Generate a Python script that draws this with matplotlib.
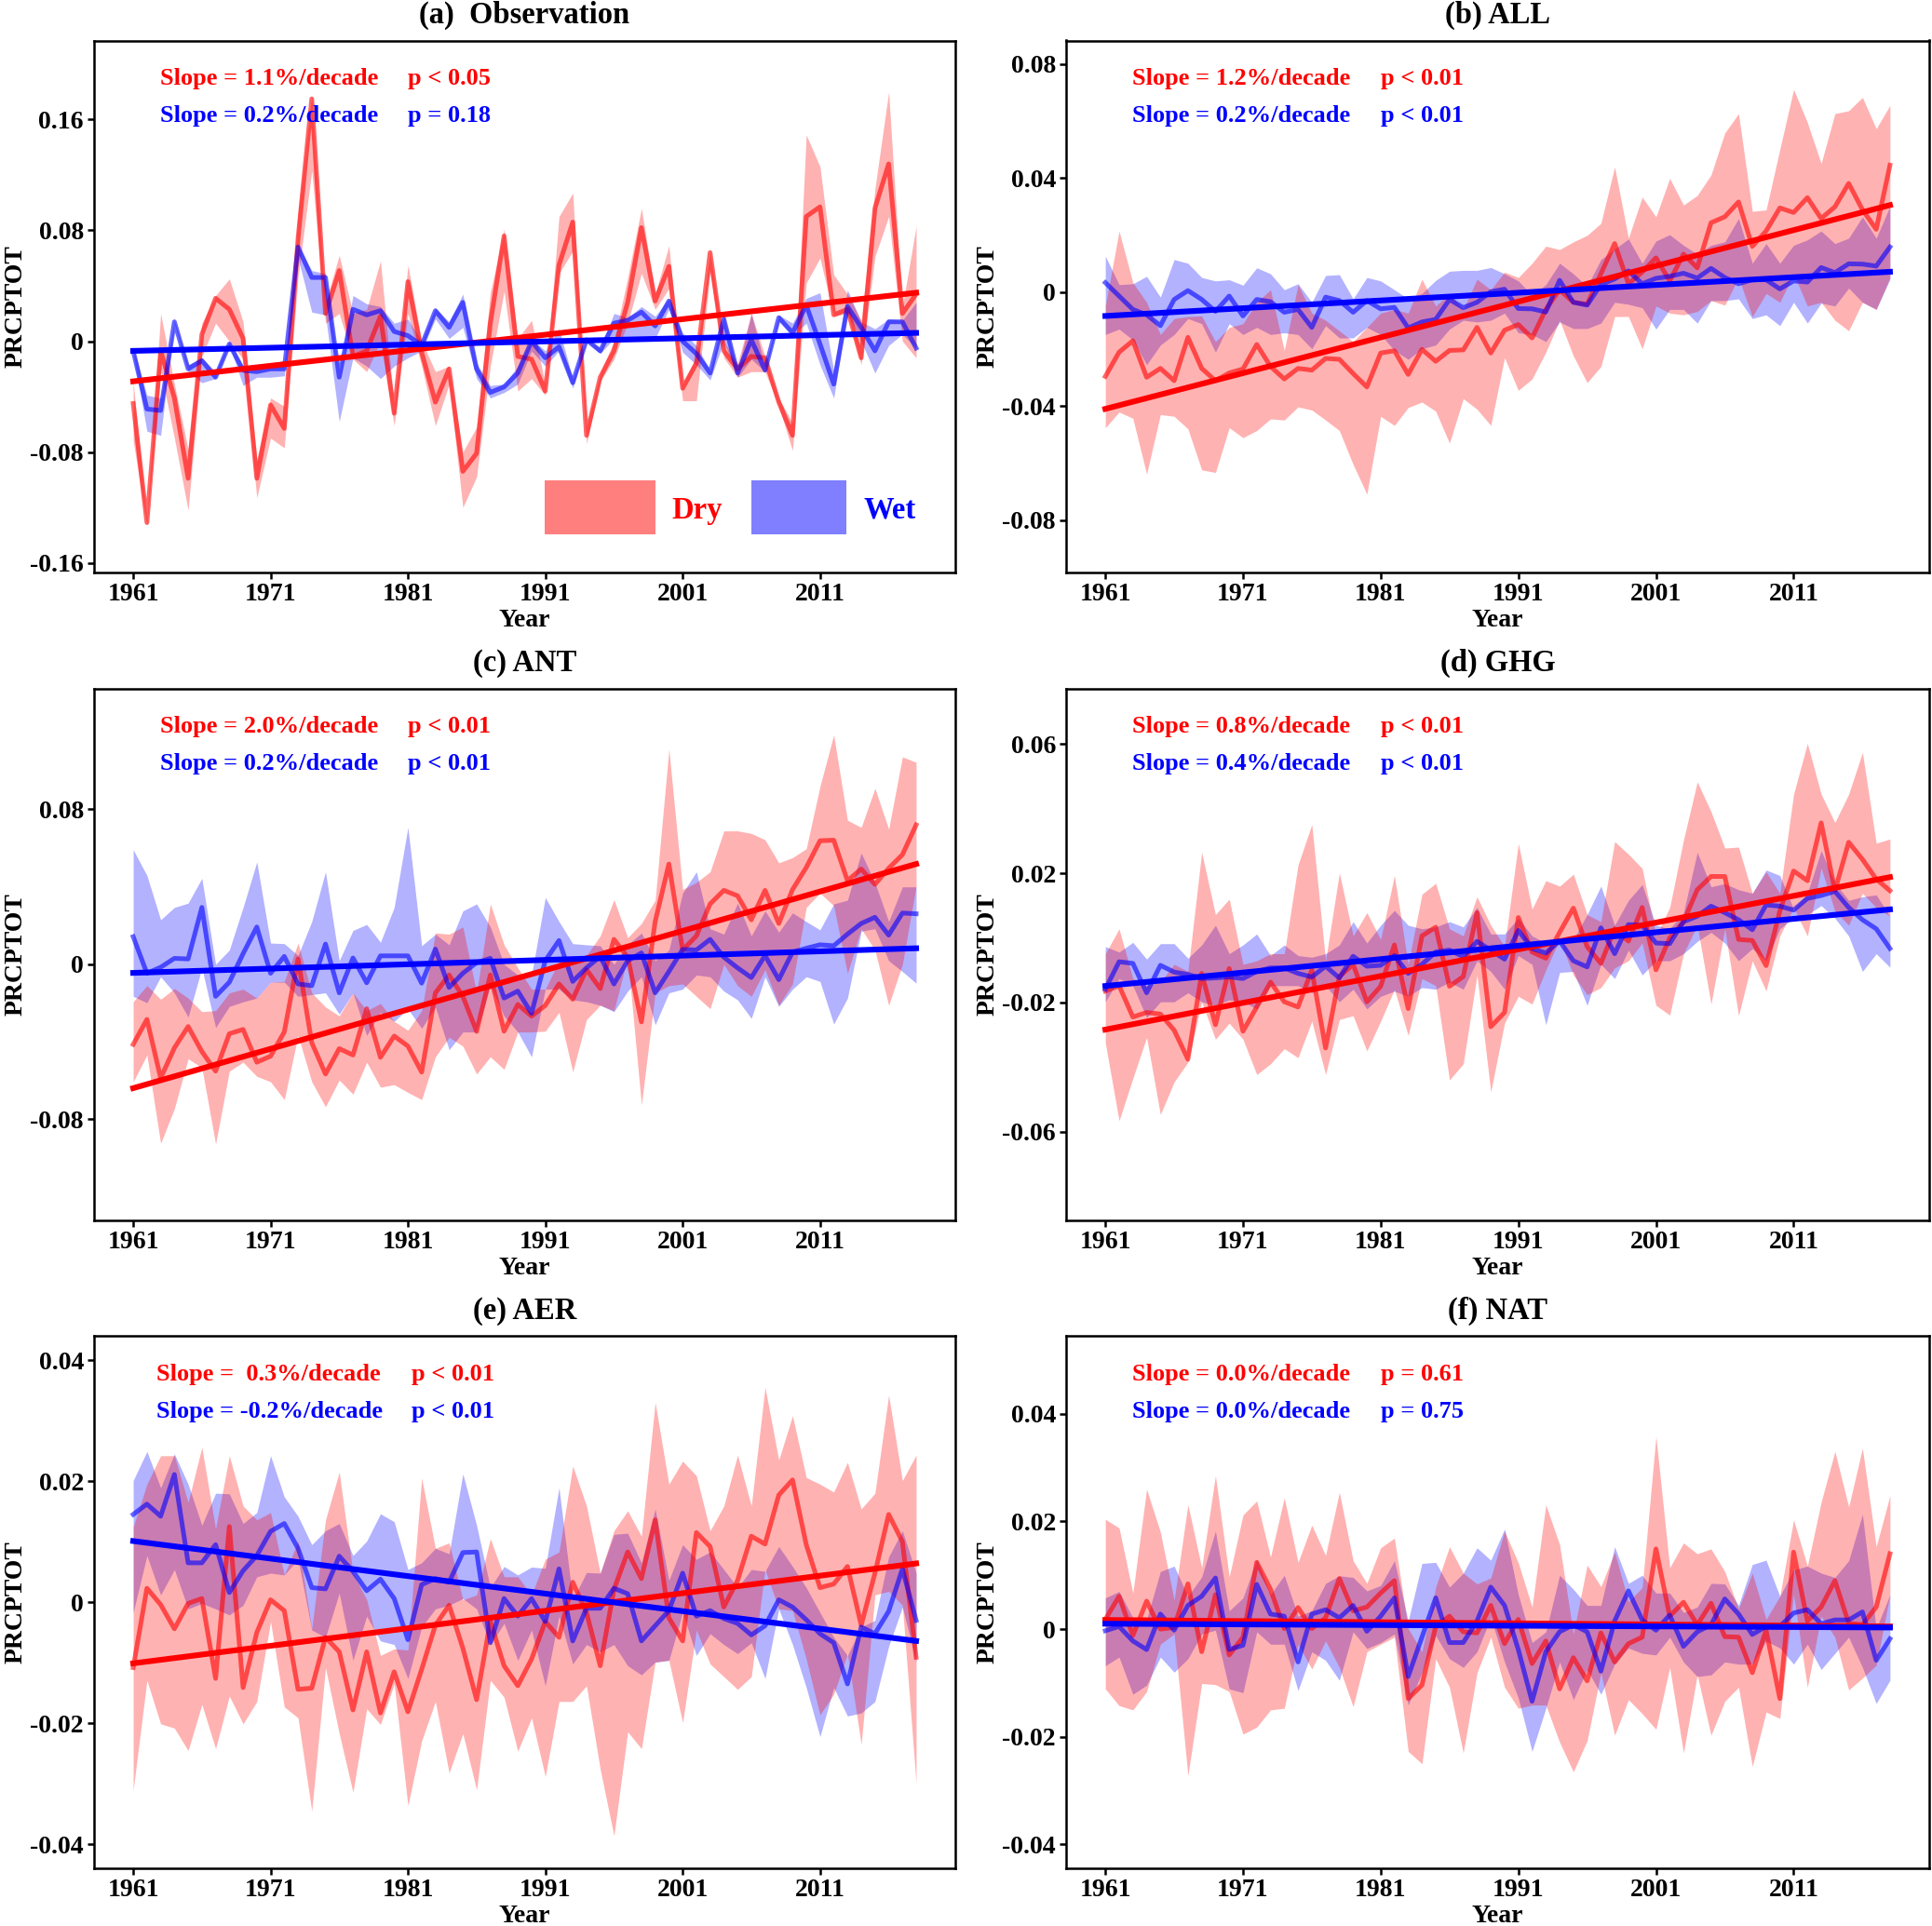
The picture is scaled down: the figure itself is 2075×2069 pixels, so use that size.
# PRCPTOT anomalies for dry and wet regions, obs and model forcings
import numpy as np
import matplotlib
matplotlib.use("Agg")
import matplotlib.pyplot as plt
from matplotlib.patches import Rectangle

plt.rcParams["font.family"] = ["Liberation Serif", "DejaVu Serif"]
plt.rcParams["font.weight"] = "bold"

years = np.arange(1961, 2019)
xticks = [1961, 1971, 1981, 1991, 2001, 2011]

# (a) Observation
a_dry = [-.045,-.131,-.007,-.041,-.099,.005,.031,.023,.002,-.099,-.046,-.063,.074,.175,.020,.051,-.011,-.007,.018,-.052,.043,-.008,-.044,-.020,-.094,-.081,.013,.076,-.011,-.013,-.036,.055,.086,-.068,-.026,-.007,.028,.082,.029,.054,-.034,-.016,.064,-.007,-.020,-.011,-.012,-.044,-.068,.090,.097,.019,.023,-.012,.096,.128,.020,.034]
a_dry_hi = [-.029,-.129,.020,-.031,-.078,.013,.033,.045,.014,-.085,-.041,-.047,.093,.177,.028,.062,.020,.023,.058,-.046,.055,0,-.022,-.018,-.080,-.062,.035,.081,.002,.015,-.031,.090,.107,-.062,-.023,0,.046,.096,.034,.069,-.031,-.011,.065,0,-.016,.020,-.011,-.041,-.059,.149,.126,.048,.034,.015,.110,.180,.025,.083]
a_dry_lo = [-.072,-.133,-.021,-.070,-.122,-.011,.013,0,-.013,-.113,-.070,-.077,.046,.123,.013,.020,-.013,-.022,0,-.061,.020,-.018,-.061,-.031,-.120,-.098,-.018,.036,-.036,-.027,-.039,.049,.065,-.074,-.029,-.013,.013,.049,.023,.038,-.043,-.043,.049,-.012,-.026,-.022,-.022,-.047,-.079,.042,.060,.018,.020,-.017,.061,.090,0,-.012]
a_wet = [-.007,-.049,-.050,.014,-.020,-.014,-.026,-.002,-.021,-.022,-.020,-.020,.068,.046,.046,-.026,.023,.019,.022,.007,.004,-.003,.022,.010,.028,-.020,-.037,-.033,-.023,0,-.012,-.004,-.030,.001,-.007,.013,.015,.021,.011,.029,0,-.009,-.023,.016,-.023,.001,-.021,.017,.006,.026,-.002,-.031,.025,.010,-.007,.014,.014,-.005]
a_wet_hi = [-.004,-.039,-.041,.015,-.017,-.012,-.022,0,-.018,-.017,-.016,-.014,.069,.051,.049,-.021,.033,.027,.025,.013,.016,0,.024,.014,.034,-.016,-.032,-.031,-.018,.002,-.007,.009,-.027,.002,-.005,.020,.017,.025,.018,.031,.006,-.003,-.021,.019,-.021,.020,-.018,.019,.013,.031,.035,-.021,.037,.014,.009,.016,.015,.028]
a_wet_lo = [-.009,-.065,-.068,.013,-.022,-.030,-.027,-.003,-.032,-.026,-.026,-.025,.060,.021,.019,-.058,-.012,-.018,-.027,-.018,-.012,-.007,.016,.002,.010,-.027,-.041,-.037,-.031,-.007,-.018,-.007,-.034,0,-.009,.002,.002,.002,.002,.023,-.008,-.017,-.028,0,-.026,-.013,-.022,.015,.004,.013,-.017,-.041,.020,0,-.023,-.003,.005,-.005]

# (b) ALL
b_dry = [-.0296,-.0211,-.0171,-.0299,-.0268,-.0311,-.0159,-.0268,-.0311,-.0284,-.0270,-.0184,-.0261,-.0305,-.0268,-.0274,-.0233,-.0236,-.0286,-.0333,-.0214,-.0206,-.0289,-.0201,-.0243,-.0205,-.0203,-.0124,-.0214,-.0134,-.0114,-.0161,-.0061,.0008,-.0036,-.0043,.0064,.0170,.0029,.0070,.0120,.0039,.0133,.0085,.0243,.0264,.0316,.0160,.0214,.0295,.0279,.0331,.0258,.0299,.0381,.0289,.0220,.0445]
b_dry_hi = [-.0049,.0214,.0033,-.0036,-.0149,-.0093,-.0086,-.0084,-.0174,-.0124,-.0111,-.0036,.0008,-.0205,.0026,-.0074,-.0099,-.0136,-.0174,-.0124,-.0074,-.0061,-.0074,.0045,-.0049,-.0005,-.0061,.0045,.0008,.0070,.0051,.0101,.0161,.0149,.0176,.0199,.0241,.0439,.0189,.0333,.0264,.0399,.0305,.0339,.0411,.0558,.0626,.0283,.0288,.0501,.0711,.0595,.0451,.0626,.0636,.0683,.0573,.0655]
b_dry_lo = [-.0476,-.0421,-.0443,-.0639,-.0430,-.0436,-.0480,-.0624,-.0633,-.0476,-.0511,-.0486,-.0445,-.0449,-.0403,-.0414,-.0449,-.0486,-.0605,-.0709,-.0436,-.0468,-.0405,-.0386,-.0418,-.0530,-.0374,-.0411,-.0468,-.0230,-.0345,-.0305,-.0211,-.0099,-.0224,-.0318,-.0261,-.0086,-.0086,-.0199,-.0049,-.0074,-.0080,-.0068,-.0030,-.0046,.0051,-.0086,-.0005,-.0036,.0064,-.0049,-.0036,-.0099,-.0136,-.0036,-.0061,.0051]
b_wet = [.0033,-.0014,-.0061,-.0080,-.0118,-.0026,.0005,-.0026,-.0068,-.0014,-.0084,-.0026,-.0034,-.0071,-.0061,-.0124,-.0018,-.0030,-.0071,-.0030,-.0059,-.0054,-.0126,-.0105,-.0096,-.0026,-.0055,-.0036,.0001,.0010,-.0058,-.0059,-.0070,.0041,-.0036,-.0046,.0026,.0046,.0074,.0029,.0048,.0055,.0066,.0049,.0083,.0051,.0029,.0043,.0043,.0011,.0039,.0035,.0086,.0068,.0099,.0098,.0091,.0158]
b_wet_hi = [.0126,.0026,.0029,.0055,-.0018,.0114,.0101,.0051,.0039,.0043,.0024,.0085,.0064,.0008,.0029,-.0036,.0058,.0061,-.0024,.0051,.0039,.0008,-.0024,-.0005,.0041,.0073,.0076,.0076,.0086,.0064,.0039,-.0011,.0026,.0101,.0064,.0020,.0114,.0151,.0186,.0101,.0179,.0201,.0164,.0133,.0164,.0176,.0258,.0101,.0170,.0101,.0164,.0183,.0214,.0170,.0189,.0264,.0189,.0301]
b_wet_lo = [-.0149,-.0130,-.0168,-.0255,-.0186,-.0149,-.0093,-.0111,-.0211,-.0111,-.0149,-.0124,-.0149,-.0143,-.0149,-.0199,-.0118,-.0161,-.0161,-.0124,-.0149,-.0205,-.0236,-.0199,-.0186,-.0130,-.0099,-.0105,-.0099,-.0074,-.0143,-.0149,-.0174,-.0105,-.0128,-.0128,-.0109,-.0036,-.0043,-.0055,-.0130,-.0061,-.0061,-.0109,-.0030,-.0030,-.0024,-.0093,-.0080,-.0118,-.0036,-.0109,-.0039,-.0049,.0014,-.0036,-.0061,.0045]

# (c) ANT
c_dry = [-.0415,-.0286,-.0589,-.0433,-.0323,-.0452,-.0553,-.0360,-.0338,-.0507,-.0476,-.0351,.0026,-.0406,-.0568,-.0437,-.0470,-.0231,-.0482,-.0372,-.0424,-.0558,-.0149,-.0057,-.0167,-.0348,-.0057,-.0347,-.0209,-.0269,-.0214,-.0103,-.0182,-.0029,-.0127,.0127,.0035,-.0299,.0219,.0516,.0072,.0145,.0310,.0380,.0352,.0228,.0380,.0209,.0384,.0498,.0636,.0639,.0430,.0490,.0411,.0494,.0564,.0718]
c_dry_hi = [-.0195,-.0112,-.0182,-.0127,-.0176,-.0246,-.0241,-.0149,-.0130,-.0176,-.0094,-.0090,.0108,-.0149,-.0222,-.0268,-.0149,-.0241,-.0204,-.0296,-.0342,-.0241,.0160,.0154,.0191,-.0149,.0310,.0099,-.0020,-.0130,-.0130,.0017,.0017,.0044,.0145,.0332,.0136,.0209,.0329,.1109,.0384,.0421,.0476,.0687,.0687,.0674,.0641,.0522,.0549,.0595,.0917,.1183,.0742,.0705,.0907,.0696,.1069,.1041]
c_dry_lo = [-.0608,-.0470,-.0926,-.0746,-.0489,-.0535,-.0929,-.0553,-.0507,-.0580,-.0608,-.0700,-.0369,-.0608,-.0737,-.0599,-.0672,-.0507,-.0636,-.0623,-.0663,-.0700,-.0479,-.0378,-.0424,-.0568,-.0479,-.0544,-.0351,-.0351,-.0347,-.0250,-.0557,-.0287,-.0213,-.0241,.0035,-.0727,-.0149,-.0112,-.0103,-.0167,-.0231,-.0002,-.0112,-.0167,-.0029,-.0213,-.0103,.0292,.0366,.0301,-.0048,.0182,.0072,-.0213,-.0002,.0402]
c_wet = [.0141,-.0048,-.0017,.0029,.0026,.0292,-.0167,-.0094,.0053,.0191,-.0048,.0039,-.0103,-.0112,.0103,-.0149,.0031,-.0097,.0042,.0042,.0042,-.0099,.0077,-.0121,-.0048,.0007,.0029,-.0176,-.0140,-.0255,.0017,.0121,-.0090,-.0020,.0039,-.0103,.0017,.0057,-.0149,-.0039,.0075,.0072,.0127,.0035,-.0020,-.0070,.0044,-.0081,.0061,.0081,.0099,.0094,.0154,.0209,.0241,.0149,.0263,.0259]
c_wet_hi = [.0590,.0457,.0228,.0292,.0314,.0442,-.0002,.0072,.0292,.0527,.0108,.0105,.0044,.0219,.0476,.0017,.0173,.0204,.0112,.0292,.0705,.0094,.0154,.0099,.0274,.0310,.0191,-.0002,-.0057,-.0057,.0343,.0219,.0105,.0099,.0094,-.0002,.0099,.0160,.0017,.0072,.0366,.0476,.0182,.0154,.0314,.0145,.0274,.0164,.0264,.0219,.0176,.0310,.0329,.0573,.0420,.0219,.0398,.0398]
c_wet_lo = [-.0167,-.0200,-.0066,-.0149,-.0274,-.0020,-.0328,-.0219,-.0195,-.0176,-.0094,-.0094,-.0167,-.0158,-.0149,-.0259,-.0149,-.0369,-.0249,-.0296,-.0232,-.0332,-.0222,-.0443,-.0351,-.0351,-.0112,-.0268,-.0351,-.0479,-.0130,-.0130,-.0185,-.0195,-.0213,-.0246,-.0140,-.0066,-.0314,-.0149,-.0130,-.0057,-.0066,-.0140,-.0185,-.0281,-.0066,-.0219,-.0130,-.0066,-.0090,-.0310,-.0176,.0169,.0182,.0017,-.0039,-.0099]

# (d) GHG
d_dry = [-.0165,-.0148,-.0245,-.0231,-.0236,-.0286,-.0376,-.0110,-.0269,-.0095,-.0289,-.0214,-.0137,-.0198,-.0214,-.0099,-.0341,-.0120,-.0082,-.0198,-.0150,-.0022,-.0219,.0006,.0033,-.0150,-.0120,.0078,-.0275,-.0231,.0063,-.0044,-.0063,.0017,.0092,-.0027,-.0079,.0028,-.0010,.0094,-.0099,0,.0050,.0149,.0190,.0190,-.0005,-.0008,-.0086,.0083,.0207,.0177,.0356,.0146,.0296,.0243,.0182,.0146]
d_dry_hi = [-.0049,.0028,-.0126,-.0148,-.0137,-.0082,-.0104,.0265,.0072,.0120,-.0082,-.0071,-.0049,-.0049,.0226,.0351,-.0071,.0201,.0006,.0078,-.0005,.0193,-.0082,.0135,.0169,.0028,.0006,.0127,.0039,-.0027,.0292,.0089,.0177,.0160,.0197,.0072,.0050,.0298,.0259,.0215,.0006,.0094,.0303,.0483,.0391,.0278,.0281,.0138,.0204,.0138,.0445,.0602,.0445,.0357,.0445,.0574,.0293,.0306]
d_dry_lo = [-.0325,-.0566,-.0435,-.0308,-.0547,-.0446,-.0385,-.0198,-.0314,-.0264,-.0314,-.0423,-.0390,-.0343,-.0371,-.0258,-.0423,-.0253,-.0241,-.0350,-.0258,-.0159,-.0302,-.0126,-.0148,-.0440,-.0390,-.0115,-.0477,-.0264,-.0181,-.0205,-.0099,-.0005,-.0115,-.0176,-.0154,-.0093,-.0071,-.0016,-.0209,-.0239,-.0049,.0039,-.0205,.0028,-.0241,-.0071,-.0164,.0006,.0094,.0006,.0216,.0083,.0039,.0138,.0094,.0067]
d_wet = [-.0159,-.0074,-.0079,-.0170,-.0085,-.0106,-.0113,-.0126,-.0124,-.0121,-.0126,-.0104,-.0093,-.0093,-.0110,-.0121,-.0088,-.0124,-.0057,-.0088,-.0085,-.0055,-.0110,-.0082,-.0044,-.0038,-.0058,-.0011,-.0038,-.0066,.0023,-.0033,-.0047,-.0010,-.0071,-.0090,.0031,-.0049,.0041,.0039,-.0016,-.0018,.0050,.0067,.0098,.0078,.0056,.0025,.0102,.0098,.0086,.0122,.0131,.0144,.0094,.0056,.0028,-.0033]
d_wet_hi = [-.0027,-.0044,-.0014,-.0066,-.0018,-.0018,-.0063,-.0022,.0039,-.0049,-.0022,.0012,-.0055,-.0022,-.0055,-.0060,-.0049,-.0022,.0050,-.0016,.0039,.0085,.0039,.0028,.0034,.0050,.0034,.0094,.0012,.0012,.0061,.0006,-.0016,-.0016,-.0005,.0072,.0160,.0039,.0116,.0165,.0039,.0028,.0078,.0265,.0158,.0168,.0149,.0138,.0210,.0193,.0089,.0138,.0270,.0171,.0116,.0127,.0133,.0067]
d_wet_lo = [-.0198,-.0126,-.0148,-.0247,-.0198,-.0198,-.0170,-.0198,-.0209,-.0192,-.0198,-.0220,-.0148,-.0148,-.0148,-.0170,-.0148,-.0198,-.0159,-.0220,-.0181,-.0165,-.0181,-.0154,-.0159,-.0137,-.0159,-.0071,-.0104,-.0159,-.0055,-.0082,-.0269,-.0107,-.0104,-.0209,-.0082,-.0126,-.0038,-.0115,-.0071,-.0071,-.0049,-.0011,.0017,-.0016,-.0071,-.0033,-.0071,.0028,.0061,.0072,.0100,.0061,.0006,-.0104,-.0049,-.0091]

# (e) AER
e_dry = [-.0108,.0023,-.0004,-.0044,-.0002,.0006,-.0126,.0125,-.0141,-.0050,.0004,-.0014,-.0144,-.0142,-.0058,-.0082,-.0178,-.0082,-.0183,-.0115,-.0181,-.0111,-.0038,-.0005,-.0076,-.0161,-.0032,-.0105,-.0138,-.0094,-.0032,-.0058,.0033,-.0017,-.0105,.0021,.0083,.0039,.0136,-.0026,-.0064,.0115,.0092,-.0008,.0036,.0109,.0096,.0177,.0202,.0095,.0024,.0030,.0059,-.0038,.0048,.0145,.0100,-.0091]
e_dry_hi = [.0124,.0195,.0242,.0242,.0165,.0256,.0121,.0242,.0159,.0136,.0148,.0045,.0101,-.0044,.0136,.0215,.0048,.0004,-.0088,-.0077,-.0079,.0205,.0089,.0098,.0004,.0012,.0105,.0042,.0042,.0012,.0071,.0083,.0225,.0159,.0048,.0118,.0151,.0109,.0330,.0195,.0233,.0209,.0118,.0159,.0243,.0159,.0355,.0235,.0308,.0206,.0195,.0182,.0231,.0154,.0180,.0342,.0201,.0243]
e_dry_lo = [-.0311,-.0129,-.0201,-.0208,-.0245,-.0169,-.0242,-.0155,-.0201,-.0164,-.0032,-.0173,-.0191,-.0345,-.0108,-.0217,-.0314,-.0176,-.0202,-.0135,-.0336,-.0229,-.0164,-.0282,-.0217,-.0310,-.0129,-.0157,-.0246,-.0191,-.0288,-.0164,-.0164,-.0138,-.0276,-.0386,-.0214,-.0242,-.0099,-.0096,-.0199,-.0046,-.0102,-.0123,-.0144,-.0123,.0054,-.0011,-.0014,-.0094,-.0186,-.0152,-.0085,-.0235,.0012,.0018,-.0005,-.0299]
e_wet = [.0145,.0162,.0142,.0211,.0065,.0065,.0095,.0016,.0052,.0077,.0117,.0130,.0089,.0024,.0022,.0076,.0051,.0019,.0038,.0006,-.0062,.0029,.0039,.0033,.0082,.0083,-.0067,.0006,-.0023,.0006,-.0032,.0055,-.0064,-.0010,-.0010,.0023,.0014,-.0064,-.0039,-.0014,.0048,-.0023,-.0014,-.0027,-.0035,-.0054,-.0039,.0004,-.0008,-.0029,-.0052,-.0067,-.0135,-.0041,-.0052,-.0015,.0055,-.0030]
e_wet_hi = [.0201,.0249,.0189,.0245,.0195,.0127,.0180,.0179,.0130,.0148,.0242,.0174,.0142,.0095,.0118,.0130,.0077,.0101,.0146,.0133,.0054,.0065,.0089,.0080,.0212,.0127,.0024,.0059,.0045,.0058,.0056,.0189,.0004,.0049,.0048,.0112,.0114,.0065,.0154,.0036,.0095,.0071,.0083,.0054,.0024,.0054,.0051,.0092,.0059,.0024,-.0017,-.0058,-.0088,-.0041,-.0030,.0075,.0118,.0048]
e_wet_lo = [-.0017,.0077,.0012,.0054,-.0011,-.0002,-.0011,-.0021,-.0005,.0042,.0048,.0045,.0071,-.0046,-.0058,.0015,-.0096,-.0023,-.0064,-.0070,-.0126,-.0041,-.0011,-.0005,.0006,-.0011,-.0070,-.0035,-.0096,-.0046,-.0138,-.0023,-.0102,-.0070,-.0082,-.0070,-.0105,-.0120,-.0099,-.0096,-.0017,-.0088,-.0052,-.0070,-.0085,-.0067,-.0126,-.0011,-.0070,-.0141,-.0222,-.0141,-.0188,-.0183,-.0164,-.0073,-.0008,-.0099]

# (f) NAT
f_dry = [.0018,.0061,-.0012,.0052,0,.0003,.0084,-.0042,.0064,-.0048,-.0015,.0124,.0074,.0001,.0040,.0001,.0021,.0094,.0034,.0041,.0067,.0090,-.0129,-.0104,.0005,.0024,-.0005,-.0007,.0044,-.0027,.0018,-.0064,-.0022,-.0111,-.0053,-.0096,-.0007,-.0061,-.0027,-.0015,.0149,.0024,.0050,.0008,.0048,-.0014,-.0015,-.0081,-.0002,-.0129,.0143,.0015,.0041,.0090,.0011,.0008,.0041,.0140]
f_dry_hi = [.0204,.0188,.0067,.0260,.0180,.0054,.0231,.0114,.0285,.0097,.0212,.0238,.0134,.0244,.0124,.0193,.0137,.0254,.0127,.0085,.0151,.0169,.0001,-.0042,.0078,.0153,.0104,.0084,.0095,.0182,.0123,.0041,.0231,.0157,-.0009,.0119,.0079,.0143,.0051,.0077,.0358,.0114,.0160,.0140,.0149,.0107,.0038,.0104,.0018,.0061,.0203,.0117,.0236,.0330,.0227,.0336,.0153,.0248]
f_dry_lo = [-.0111,-.0142,-.0150,-.0116,-.0028,-.0009,-.0272,-.0101,-.0103,-.0116,-.0195,-.0182,-.0150,-.0147,-.0028,-.0074,-.0022,-.0071,-.0144,-.0042,-.0028,-.0015,-.0227,-.0250,-.0055,-.0108,-.0230,-.0081,-.0015,-.0108,-.0147,-.0141,-.0141,-.0210,-.0265,-.0207,-.0081,-.0197,-.0131,-.0157,-.0186,-.0071,-.0230,-.0085,-.0197,-.0134,-.0108,-.0255,-.0154,-.0166,.0064,-.0108,.0024,-.0015,-.0113,-.0091,-.0067,.0064]
f_wet = [-.0003,.0005,-.0022,-.0038,.0028,-.0002,.0044,.0061,.0095,-.0038,-.0030,.0083,.0028,.0024,-.0061,.0028,.0036,.0021,.0044,-.0004,.0024,.0058,-.0088,-.0015,.0058,-.0025,-.0025,.0015,.0078,.0044,-.0038,-.0134,-.0042,-.0005,.0008,-.0005,-.0078,.0015,.0071,.0017,-.0002,.0026,-.0032,-.0005,.0008,.0056,.0028,-.0010,.0005,.0005,.0030,.0036,.0010,.0017,.0017,.0032,-.0058,-.0018]
f_wet_hi = [.0058,.0070,.0021,.0018,.0107,.0117,.0061,.0097,.0182,.0034,.0058,.0130,.0064,.0100,.0024,.0034,.0085,.0099,.0096,.0071,.0081,.0127,.0015,.0122,.0124,.0078,.0104,.0151,.0128,.0186,.0064,-.0025,-.0005,.0100,.0074,.0044,.0044,.0153,.0085,.0100,.0067,.0067,.0031,.0041,.0085,.0084,.0044,.0120,.0128,.0061,.0110,.0117,.0104,.0096,.0127,.0213,.0001,.0064]
f_wet_lo = [-.0068,-.0052,-.0121,-.0104,-.0052,-.0080,-.0055,-.0009,-.0002,-.0111,-.0118,-.0005,-.0028,-.0028,-.0114,-.0042,-.0058,-.0095,-.0005,-.0036,-.0025,-.0009,-.0141,-.0081,-.0012,-.0055,-.0071,-.0042,.0021,-.0061,-.0128,-.0227,-.0147,-.0061,-.0131,-.0075,-.0121,-.0065,-.0035,-.0045,-.0048,-.0015,-.0061,-.0088,-.0085,-.0061,-.0065,-.0065,-.0022,-.0035,-.0065,-.0028,-.0075,-.0045,-.0015,-.0071,-.0138,-.0095]

# trend lines, 1961 and 2018 ends
trend_years = [1961, 2018]
a_trend = ([-.029, .035], [-.007, .006])
b_trend = ([-.041, .0305], [-.0084, .0071])
c_trend = ([-.0641, .0516], [-.0046, .0081])
d_trend = ([-.0284, .0188], [-.0149, .0088])
e_trend = ([-.0101, .0064], [.0101, -.0064])
f_trend = ([.0017, .0005], [.0010, .0003])

titles = ["(a)  Observation", "(b) ALL", "(c) ANT", "(d) GHG", "(e) AER", "(f) NAT"]
slope_text = [
    ("Slope = 1.1%/decade", "p < 0.05", "Slope = 0.2%/decade", "p = 0.18"),
    ("Slope = 1.2%/decade", "p < 0.01", "Slope = 0.2%/decade", "p < 0.01"),
    ("Slope = 2.0%/decade", "p < 0.01", "Slope = 0.2%/decade", "p < 0.01"),
    ("Slope = 0.8%/decade", "p < 0.01", "Slope = 0.4%/decade", "p < 0.01"),
    ("Slope =  0.3%/decade", "p < 0.01", "Slope = -0.2%/decade", "p < 0.01"),
    ("Slope = 0.0%/decade", "p = 0.61", "Slope = 0.0%/decade", "p = 0.75"),
]
yticks = [
    [-.16, -.08, 0, .08, .16],
    [-.08, -.04, 0, .04, .08],
    [-.08, 0, .08],
    [-.06, -.02, .02, .06],
    [-.04, -.02, 0, .02, .04],
    [-.04, -.02, 0, .02, .04],
]
ylabels = [
    ["-0.16", "-0.08", "0", "0.08", "0.16"],
    ["-0.08", "-0.04", "0", "0.04", "0.08"],
    ["-0.08", "0", "0.08"],
    ["-0.06", "-0.02", "0.02", "0.06"],
    ["-0.04", "-0.02", "0", "0.02", "0.04"],
    ["-0.04", "-0.02", "0", "0.02", "0.04"],
]
ylims = [(-.167, .2171), (-.0984, .08825), (-.1324, .1422), (-.0875, .0772), (-.04394, .04394), (-.0444, .0544)]

panels = [
    (a_dry, a_dry_lo, a_dry_hi, a_wet, a_wet_lo, a_wet_hi, a_trend),
    (b_dry, b_dry_lo, b_dry_hi, b_wet, b_wet_lo, b_wet_hi, b_trend),
    (c_dry, c_dry_lo, c_dry_hi, c_wet, c_wet_lo, c_wet_hi, c_trend),
    (d_dry, d_dry_lo, d_dry_hi, d_wet, d_wet_lo, d_wet_hi, d_trend),
    (e_dry, e_dry_lo, e_dry_hi, e_wet, e_wet_lo, e_wet_hi, e_trend),
    (f_dry, f_dry_lo, f_dry_hi, f_wet, f_wet_lo, f_wet_hi, f_trend),
]

W, H = 2075, 2069
fig = plt.figure(figsize=(W / 100, H / 100), dpi=100)
lefts = [101, 1145]
widths = [925, 927]
tops = [43.5, 739.6, 1435.4]
ax_h = 571.5

for i, panel in enumerate(panels):
    dry, dry_lo, dry_hi, wet, wet_lo, wet_hi, trend = panel
    col, row = i % 2, i // 2
    ax = fig.add_axes([lefts[col] / W, 1 - (tops[row] + ax_h) / H, widths[col] / W, ax_h / H])

    # wet band goes under the dry one, gives the pinkish overlap
    ax.fill_between(years, wet_lo, wet_hi, color="blue", alpha=0.3, lw=0)
    ax.fill_between(years, dry_lo, dry_hi, color="red", alpha=0.3, lw=0)
    ax.plot(years, dry, color="red", alpha=0.6, lw=3.6)
    ax.plot(years, wet, color="blue", alpha=0.6, lw=3.6)
    ax.plot(trend_years, trend[0], color="red", lw=4.4)
    ax.plot(trend_years, trend[1], color="blue", lw=4.4)

    ax.set_xlim(1958.15, 2020.85)
    ax.set_ylim(*ylims[i])
    ax.set_xticks(xticks)
    ax.set_yticks(yticks[i])
    ax.set_yticklabels(ylabels[i])
    ax.tick_params(labelsize=20, width=1.8, length=5, pad=3)
    ax.set_xlabel("Year", fontsize=20, fontweight="bold", labelpad=2)
    ax.set_ylabel("PRCPTOT", fontsize=20, fontweight="bold")
    ax.yaxis.set_label_coords(-0.077, 0.5)
    ax.set_title(titles[i], fontsize=23.5, fontweight="bold", pad=13.5)
    for s in ax.spines.values():
        s.set_linewidth(1.8)

    # slope and p-value text, panel (e) sits slightly wider
    x1, x2 = (0.0725, 0.3686) if i == 4 else (0.0768, 0.3642)
    ax.text(x1, 0.928, slope_text[i][0], color="red", fontsize=19, transform=ax.transAxes, va="center")
    ax.text(x2, 0.928, slope_text[i][1], color="red", fontsize=19, transform=ax.transAxes, va="center")
    ax.text(x1, 0.858, slope_text[i][2], color="blue", fontsize=19, transform=ax.transAxes, va="center")
    ax.text(x2, 0.858, slope_text[i][3], color="blue", fontsize=19, transform=ax.transAxes, va="center")

    if i == 0:
        ax.add_patch(Rectangle((0.523, 0.071), 0.129, 0.103, transform=ax.transAxes, color="red", alpha=0.5, lw=0))
        ax.add_patch(Rectangle((0.763, 0.071), 0.111, 0.103, transform=ax.transAxes, color="blue", alpha=0.5, lw=0))
        ax.text(0.671, 0.117, "Dry", color="red", fontsize=23.5, transform=ax.transAxes, va="center")
        ax.text(0.894, 0.117, "Wet", color="blue", fontsize=23.5, transform=ax.transAxes, va="center")

fig.savefig("out.png", dpi=100)
plt.close(fig)
